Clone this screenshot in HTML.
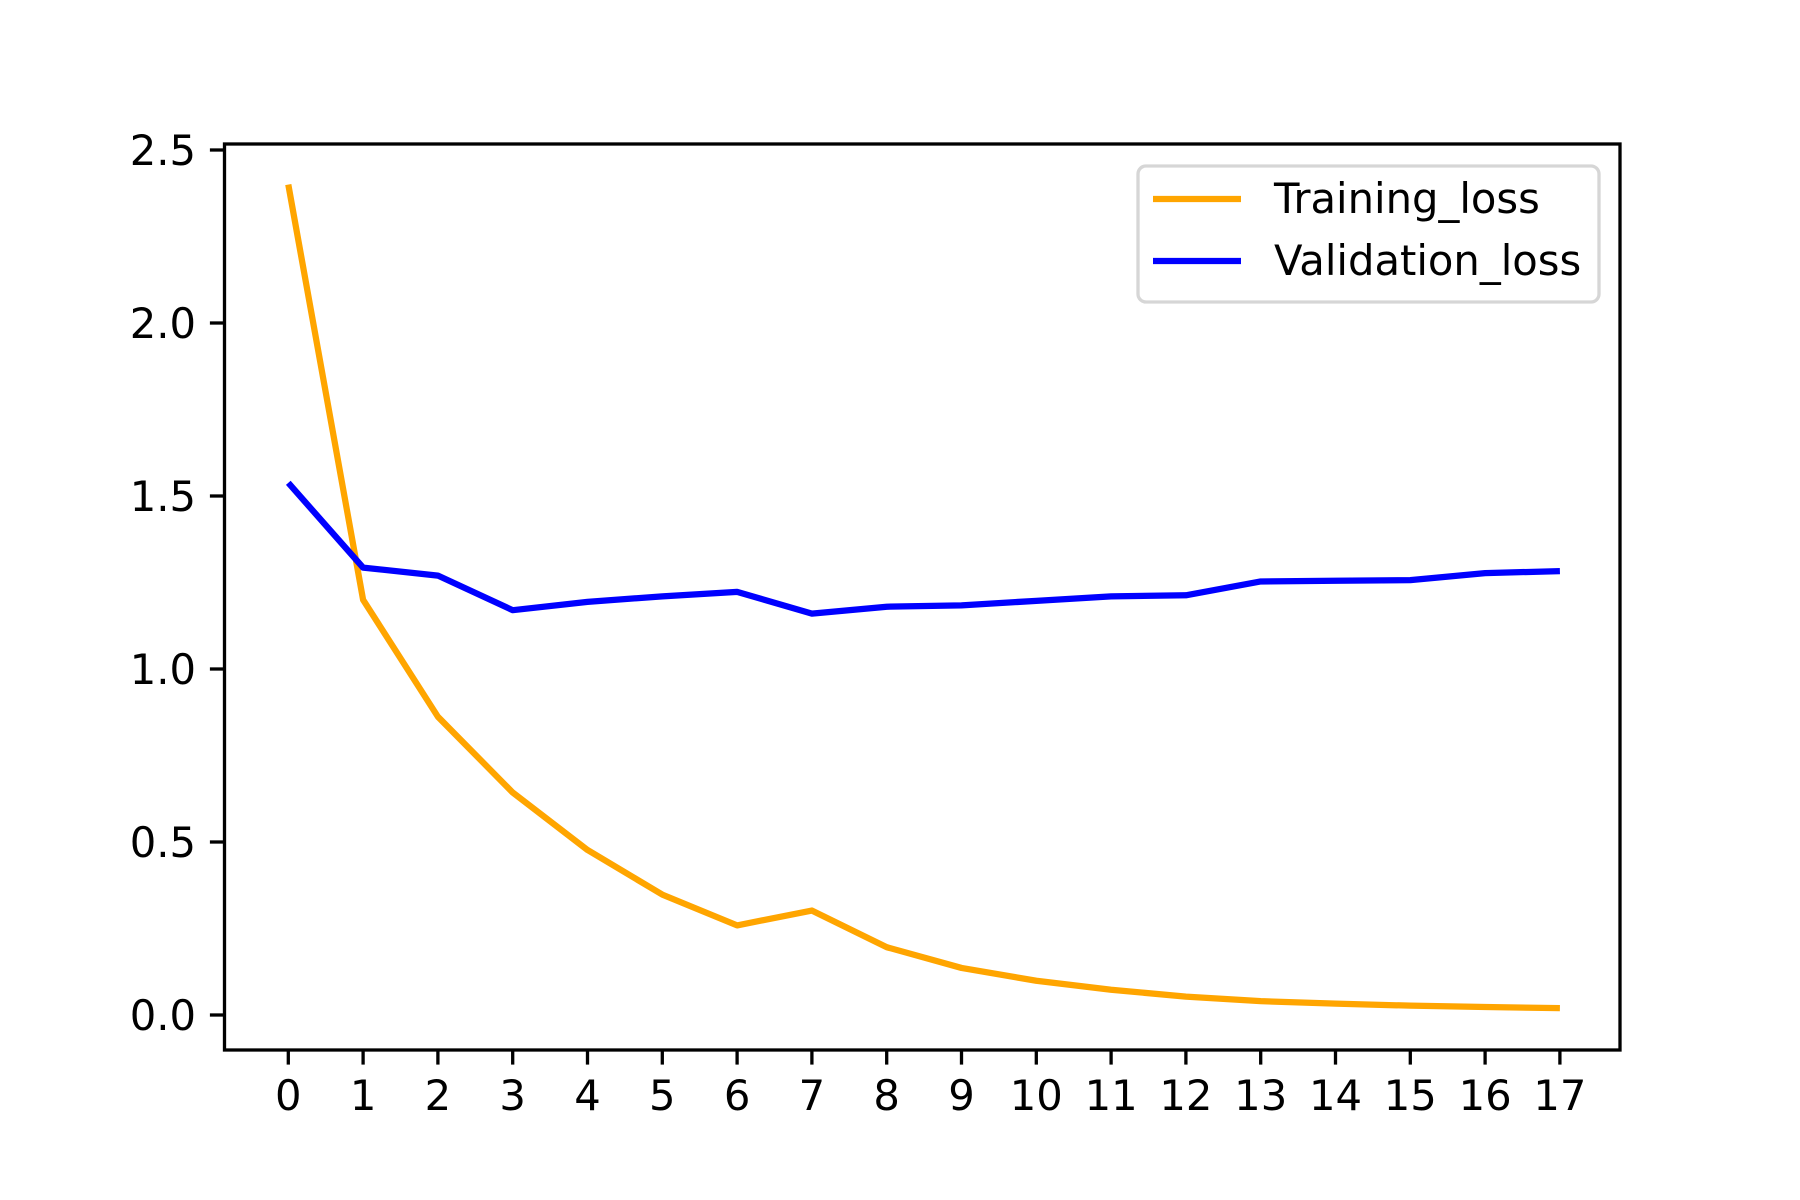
<!DOCTYPE html>
<html><head><meta charset="utf-8"><style>
html,body{margin:0;padding:0;background:#fff;}
svg{display:block;font-family:"DejaVu Sans","Liberation Sans",sans-serif;}
</style></head><body>
<svg id="chart" width="1800" height="1200" viewBox="0 0 1800 1200">
<rect x="0" y="0" width="1800" height="1200" fill="#fff"/>
<g id="plot"></g>
</svg>
<script>
const epochs = [0,1,2,3,4,5,6,7,8,9,10,11,12,13,14,15,16,17];
const trainingLoss = [2.40,1.20,0.862,0.643,0.477,0.348,0.259,0.302,0.196,0.136,0.099,0.073,0.053,0.040,0.033,0.027,0.023,0.020];
const validationLoss = [1.538,1.293,1.270,1.170,1.194,1.210,1.223,1.160,1.180,1.184,1.197,1.210,1.213,1.253,1.255,1.257,1.277,1.283];
const yTicks = [0.0,0.5,1.0,1.5,2.0,2.5];
const yTickLabels = ["0.0","0.5","1.0","1.5","2.0","2.5"];
const seriesNames = ["Training_loss","Validation_loss"];

const NS="http://www.w3.org/2000/svg";
const L=224.5,R=1620,T=144,B=1050;
const X0=288.3, XS=74.8;
const Y0=1015, YS=346;
function sx(v){return X0+v*XS;}
function sy(v){return Y0-v*YS;}
const g=document.getElementById('plot');
function mk(tag,attrs,parent){const e=document.createElementNS(NS,tag);for(const k in attrs)e.setAttribute(k,attrs[k]);(parent||g).appendChild(e);return e;}

const colors=["#ffa500","#0000ff"];
[trainingLoss,validationLoss].forEach((s,i)=>{
  const d=s.map((v,j)=>(j?"L":"M")+sx(epochs[j]).toFixed(2)+","+sy(v).toFixed(2)).join(" ");
  const p=mk('path',{d:d,fill:"none",stroke:colors[i],"stroke-width":6.25,"stroke-linejoin":"round"});
  
  
});

const fr=mk('rect',{x:L,y:T,width:R-L,height:B-T,fill:"none",stroke:"#000","stroke-width":3.3});



epochs.forEach(v=>{
  const x=sx(v);
  const t=mk('line',{x1:x,y1:B,x2:x,y2:B+14.6,stroke:"#000","stroke-width":3.3});
  
  
  const tx=mk('text',{x:x,y:1110,"font-size":41.7,"text-anchor":"middle",fill:"#000"});
  tx.textContent=String(v);
  
  
});
yTicks.forEach((v,i)=>{
  const y=sy(v);
  const t=mk('line',{x1:L-14.6,y1:y,x2:L,y2:y,stroke:"#000","stroke-width":3.3});
  
  
  const tx=mk('text',{x:196,y:y+15,"font-size":41.7,"text-anchor":"end",fill:"#000"});
  tx.textContent=yTickLabels[i];
  
  
});

const lg=mk('g',{});


const lb=mk('rect',{x:1138,y:166,width:461,height:136,rx:8,fill:"#fff","fill-opacity":0.8,stroke:"#d6d6d6","stroke-width":3.3},lg);


seriesNames.forEach((n,i)=>{
  const y=199+i*62;
  const ln=mk('line',{x1:1153,y1:y,x2:1241,y2:y,stroke:colors[i],"stroke-width":6.25},lg);
  
  
  const tx=mk('text',{x:1274,y:y+14,"font-size":41.7,fill:"#000"},lg);
  tx.textContent=n;
  
  
});
</script>
</body></html>
